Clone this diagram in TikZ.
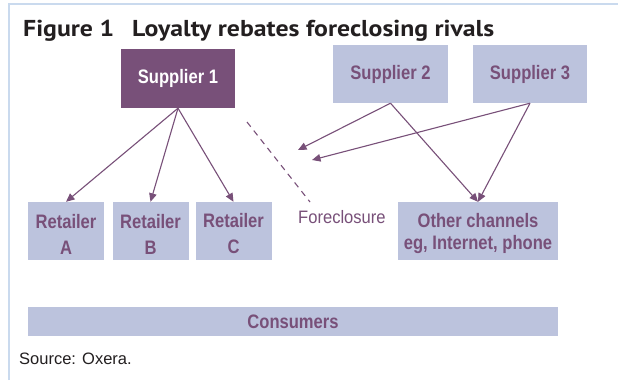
\documentclass[tikz,border=0pt]{standalone}
\usepackage{fontspec}
\setmainfont{Liberation Sans}
\newfontfamily\labelfont[FakeStretch=0.85]{Liberation Sans Bold}
\newfontfamily\notefont[FakeStretch=0.92]{Liberation Sans}
\newfontfamily\titlefont[FakeStretch=1.12]{PT Sans Bold}
\usetikzlibrary{arrows.meta}
\definecolor{plum}{HTML}{785079}
\definecolor{lilac}{HTML}{BCC3DD}
\definecolor{framecol}{HTML}{CADAEE}
\definecolor{ink}{HTML}{231F20}
% tall strut that lowers a two-line label a little inside its box
\newcommand{\lowerstrut}{\rule{0pt}{20pt}}
\tikzset{
  box/.style={rectangle, fill=lilac, text=plum, inner sep=0pt, align=center,
    font=\labelfont\fontsize{19.5}{26}\selectfont},
  darkbox/.style={box, fill=plum, text=white},
  link/.style={draw=plum, line width=1.1pt,
    -{Triangle[length=8.5pt,width=7.5pt]}},
  cutline/.style={draw=plum, line width=1.1pt, dash pattern=on 6pt off 5pt}
}
\begin{document}
\begin{tikzpicture}[x=1pt,y=-1pt]
  % page area and frame rules (top and left only)
  \fill[white] (0,0) rectangle (618,380);
  \useasboundingbox (0,0) rectangle (618,380);
  \draw[framecol, line width=1.2pt] (9,380) -- (9,4) -- (618,4);

  % heading
  \node[anchor=base west, inner sep=0pt, text=ink, font=\titlefont\fontsize{23}{26}\selectfont]
    (fig) at (23,36) {Figure 1};
  \node[anchor=base west, inner sep=0pt, text=ink, font=\titlefont\fontsize{23}{26}\selectfont]
    (heading) at (132,36) {Loyalty rebates foreclosing rivals};

  % suppliers
  \node[darkbox, minimum width=114pt, minimum height=59pt] (s1) at (178,78.5) {Supplier 1};
  \node[box, minimum width=115pt, minimum height=58pt] (s2) at (390.5,74) {Supplier 2};
  \node[box, minimum width=114pt, minimum height=58pt] (s3) at (530,74) {Supplier 3};

  % outlets
  \node[box, minimum width=76pt, minimum height=58pt] (ra) at (66,231) {\lowerstrut Retailer\\A};
  \node[box, minimum width=76pt, minimum height=58pt] (rb) at (150.5,231) {\lowerstrut Retailer\\B};
  \node[box, minimum width=76pt, minimum height=58pt] (rc) at (233.5,231) {\lowerstrut Retailer\\C};
  \node[box, minimum width=160pt, minimum height=58pt,
    font=\labelfont\fontsize{19.5}{22}\selectfont] (oc) at (478,231)
    {\lowerstrut Other channels\\eg, Internet, phone};

  % end consumers
  \node[box, minimum width=530pt, minimum height=29pt] (cons) at (293,321.5) {Consumers};

  % foreclosure barrier
  \coordinate (cutA) at (247,122);
  \coordinate (cutB) at (310,202);
  \draw[cutline] (cutA) -- (cutB);
  \node[anchor=base west, inner sep=0pt, text=plum, font=\notefont\fontsize{18}{20}\selectfont]
    (fore) at (298,223) {Foreclosure};
  \coordinate (blockA) at (298,150);
  \coordinate (blockB) at (312,160);

  % supply links
  \draw[link] (s1.south) -- (ra.north);
  \draw[link] (s1.south) -- (rb.north);
  \draw[link] (s1.south) -- (rc.north);
  \draw[link] (s2.south) -- (blockA);
  \draw[link] (s2.south) -- (oc.north);
  \draw[link] (s3.south) -- (blockB);
  \draw[link] (s3.south) -- (oc.north);

  % source line
  \node[anchor=base west, inner sep=0pt, text=ink, font=\fontsize{16.5}{20}\selectfont]
    (src) at (19,364) {Source: Oxera.};
\end{tikzpicture}
\end{document}
